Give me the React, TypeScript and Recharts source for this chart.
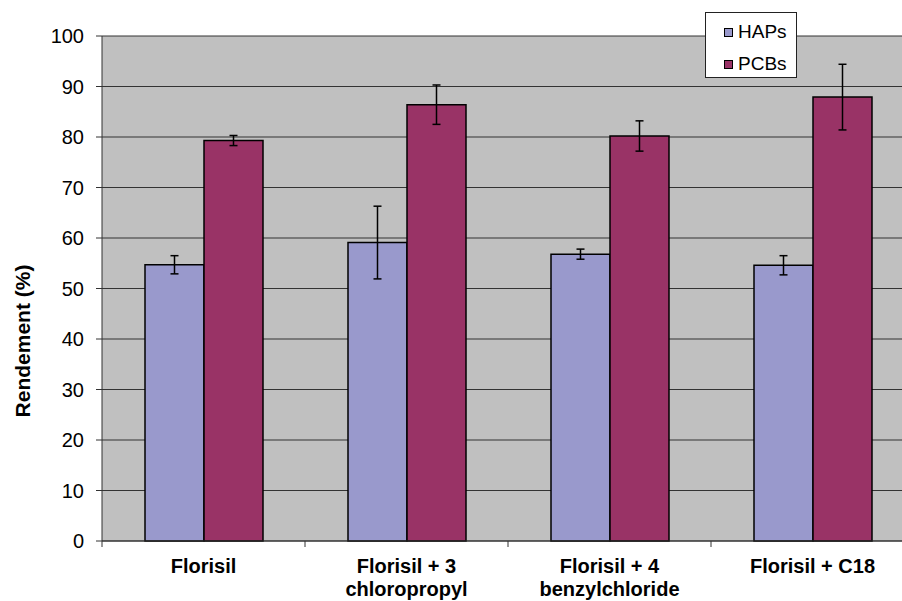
import { Bar, BarChart, CartesianGrid, ErrorBar, XAxis, YAxis } from "recharts";

const categories = [
	"Florisil",
	"Florisil + 3\nchloropropyl",
	"Florisil + 4\nbenzylchloride",
	"Florisil + C18",
];
const seriesNames = ["HAPs", "PCBs"];
const hapsValues = [54.7, 59.1, 56.8, 54.6];
const hapsErrors = [1.8, 7.2, 1.0, 1.9];
const pcbsValues = [79.3, 86.4, 80.2, 87.9];
const pcbsErrors = [1.0, 3.9, 3.0, 6.5];
const yTicks = [0, 10, 20, 30, 40, 50, 60, 70, 80, 90, 100];

const FONT = "'Liberation Sans', Arial, sans-serif";
const HAPS_COLOR = "#9999CC";
const PCBS_COLOR = "#993366";
const seriesColors = [HAPS_COLOR, PCBS_COLOR];

const CHART_W = 914;
const CHART_H = 601;
const Y_AXIS_W = 102;
const BAND = (CHART_W - Y_AXIS_W) / categories.length;

const data = categories.map((name, i) => ({
	name,
	haps: hapsValues[i],
	hapsErr: hapsErrors[i],
	pcbs: pcbsValues[i],
	pcbsErr: pcbsErrors[i],
}));

// category label on two lines + tick mark on the left boundary of each band
function CategoryTick(props: any) {
	const { x, y, payload, index } = props;
	const lines = String(payload.value).split("\n");
	return (
		<g>
			<line x1={x - BAND / 2} y1={y} x2={x - BAND / 2} y2={y + 6} stroke="#333" />
			{index === categories.length - 1 && (
				<line x1={x + BAND / 2} y1={y} x2={x + BAND / 2} y2={y + 6} stroke="#333" />
			)}
			<text x={x} y={y + 32} textAnchor="middle" fontFamily={FONT} fontSize={20} fontWeight="bold" fill="#000">
				{lines.map((l, i) => (
					<tspan key={l} x={x} dy={i === 0 ? 0 : 23}>
						{l}
					</tspan>
				))}
			</text>
		</g>
	);
}

// legend is drawn as an overlay so it does not eat plot space
function LegendBox() {
	return (
		<div
			style={{
				position: "absolute",
				left: 705,
				top: 12,
				width: 92,
				height: 66,
				background: "#fff",
				border: "1px solid #222",
				fontFamily: FONT,
				fontSize: 19,
				paddingTop: 3,
				boxSizing: "border-box",
			}}
		>
			{seriesNames.map((name, i) => (
				<div key={name} style={{ display: "flex", alignItems: "center", height: 32 }}>
					<span
						style={{
							display: "inline-block",
							width: 7,
							height: 7,
							marginLeft: 18,
							marginRight: 5,
							background: seriesColors[i],
							border: "1px solid #000",
						}}
					/>
					<span>{name}</span>
				</div>
			))}
		</div>
	);
}

export default function App() {
	return (
		<div style={{ position: "absolute", left: 0, top: 0, width: 902, height: 601, overflow: "hidden", background: "#fff" }}>
			<BarChart
				width={CHART_W}
				height={CHART_H}
				data={data}
				margin={{ top: 36, right: 0, left: 0, bottom: 0 }}
				barCategoryGap={43}
				barGap={0}
			>
				<CartesianGrid vertical={false} fill="#C0C0C0" fillOpacity={1} stroke="#333" />
				<XAxis
					dataKey="name"
					height={60}
					tickSize={0}
					tickMargin={0}
					axisLine={{ stroke: "#333" }}
					tick={<CategoryTick />}
					interval={0}
				/>
				<YAxis
					width={Y_AXIS_W}
					domain={[0, 100]}
					ticks={yTicks}
					interval={0}
					tickSize={6}
					tickMargin={12}
					axisLine={{ stroke: "#333" }}
					tickLine={{ stroke: "#333" }}
					tick={{ fontFamily: FONT, fontSize: 20, fill: "#000" }}
					label={{
						content: () => (
							<text
								x={22}
								y={341}
								transform="rotate(-90, 22, 341)"
								textAnchor="middle"
								dominantBaseline="central"
								fontFamily={FONT}
								fontSize={21}
								fontWeight="bold"
								fill="#000"
							>
								Rendement (%)
							</text>
						),
					}}
				/>
				<Bar dataKey="haps" name="HAPs" fill={HAPS_COLOR} stroke="#000" strokeWidth={1.5} isAnimationActive={false}>
					<ErrorBar dataKey="hapsErr" width={4} stroke="#000" strokeWidth={1.5} direction="y" />
				</Bar>
				<Bar dataKey="pcbs" name="PCBs" fill={PCBS_COLOR} stroke="#000" strokeWidth={1.5} isAnimationActive={false}>
					<ErrorBar dataKey="pcbsErr" width={4} stroke="#000" strokeWidth={1.5} direction="y" />
				</Bar>
			</BarChart>
			<LegendBox />
		</div>
	);
}
